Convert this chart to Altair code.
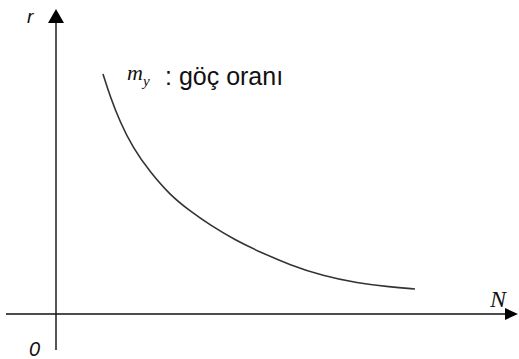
import altair as alt
import pandas as pd

# Curve of growth rate r against population size N (arbitrary units)
N_vals = [47, 54, 64, 77, 94, 114, 134, 154, 179, 204, 234, 267, 301, 334, 359]
r_vals = [240, 218, 192, 166, 142, 119, 103, 89, 74, 62, 49, 38, 31, 27, 25]

curve = pd.DataFrame({"N": N_vals, "r": r_vals})

xs = alt.Scale(domain=[-56, 463], nice=False, zero=False)
ys = alt.Scale(domain=[-45, 314], nice=False, zero=False)


def X(f):
    return alt.X(f, type="quantitative", scale=xs, axis=None)


def Y(f):
    return alt.Y(f, type="quantitative", scale=ys, axis=None)


# vertical axis (r)
v_axis = alt.Chart(pd.DataFrame({"x": [0], "y": [-36], "y2": [291]})).mark_rule(
    color="#555", strokeWidth=2
).encode(x=X("x"), y=Y("y"), y2="y2")

# horizontal axis (N)
h_axis = alt.Chart(pd.DataFrame({"x": [-50], "x2": [450], "y": [0]})).mark_rule(
    color="#111", strokeWidth=1.5
).encode(x=X("x"), x2="x2", y=Y("y"))

up_arrow = alt.Chart(pd.DataFrame({"x": [0], "y": [298]})).mark_point(
    shape="M0,-0.875L1,0.875L-1,0.875Z", size=256, filled=True, color="#000", opacity=1
).encode(x=X("x"), y=Y("y"))

right_arrow = alt.Chart(pd.DataFrame({"x": [455.5], "y": [0]})).mark_point(
    shape="M1,0L-1,-0.92L-1,0.92Z", size=169, filled=True, color="#000", opacity=1
).encode(x=X("x"), y=Y("y"))

line = alt.Chart(curve).mark_line(
    color="#333", strokeWidth=1.6, interpolate="basis"
).encode(x=X("N"), y=Y("r"))


def label(text, x, y, size, font="Liberation Sans", style="normal"):
    return alt.Chart(pd.DataFrame({"x": [x], "y": [y], "t": [text]})).mark_text(
        align="left", baseline="alphabetic", fontSize=size,
        font=font, fontStyle=style, color="#111"
    ).encode(x=X("x"), y=Y("y"), text="t:N")


labels = [
    label("r", -29, 291, 19, style="italic"),
    label("0", -27, -42, 20, style="italic"),
    label("N", 434, 7, 24, font="Liberation Serif", style="italic"),
    label("m", 71, 234, 22, font="Liberation Serif", style="italic"),
    label("y", 87, 228, 15, font="Liberation Serif", style="italic"),
    label(": göç oranı", 109, 229, 25),
]

chart = alt.layer(v_axis, h_axis, up_arrow, right_arrow, line, *labels).properties(
    width=519, height=359, padding=0, autosize=alt.AutoSizeParams(type="none"),
    background="white"
).configure_view(stroke=None)

chart.save("out.html", embed_options={"renderer": "svg", "actions": False})
